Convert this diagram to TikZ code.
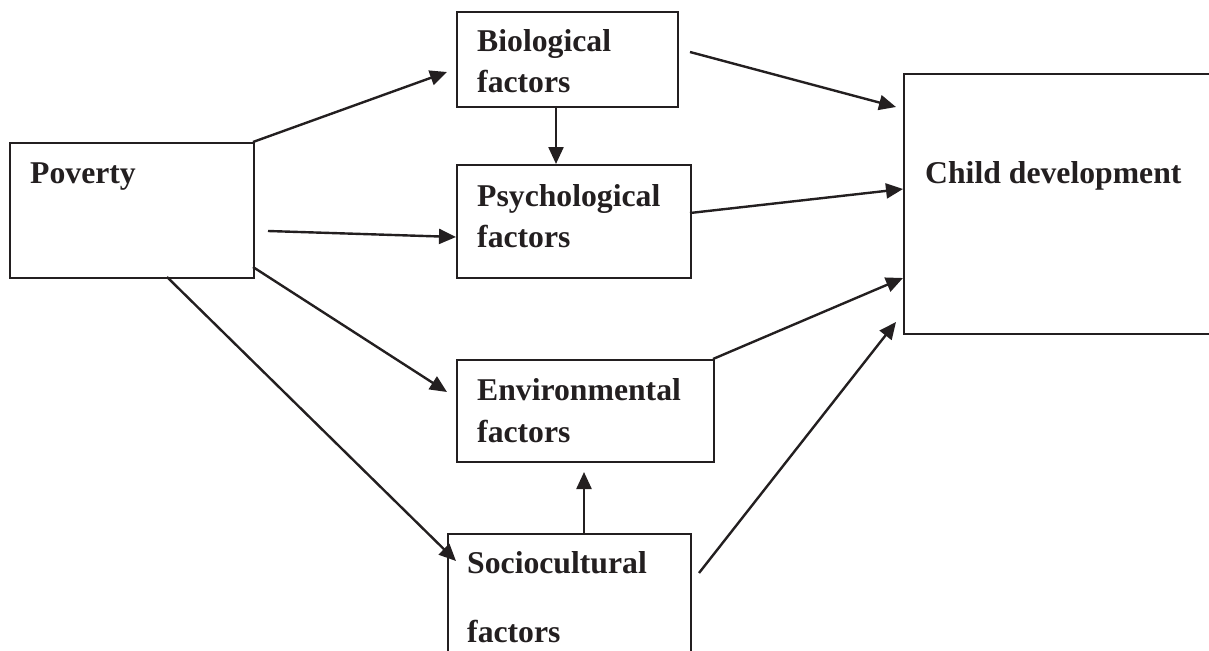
\documentclass[tikz,border=0pt]{standalone}
\usepackage{fontspec}
\setmainfont{Liberation Serif}
\usetikzlibrary{arrows.meta}
\definecolor{ink}{HTML}{231F20}
\tikzset{
  box/.style={draw=ink, line width=1.8pt, inner sep=0pt, anchor=north west},
  lbl/.style={anchor=base west, inner sep=0pt, text=ink, font=\bfseries\fontsize{31.7}{38}\selectfont},
  conn/.style={draw=ink, line width=2.4pt, -{Triangle[length=17pt,width=15pt]}},
}
\begin{document}
\begin{tikzpicture}[x=1pt,y=-1pt]
\useasboundingbox (0,0) rectangle (1209,650);
\clip (0,0) rectangle (1209,650);
% boxes
\node[box, minimum width=244pt, minimum height=135pt] (pov) at (9,142) {};
\node[box, minimum width=221pt, minimum height=95pt] (bio) at (456,11) {};
\node[box, minimum width=234pt, minimum height=113pt] (psy) at (456,164) {};
\node[box, minimum width=312pt, minimum height=260pt] (child) at (903,73) {};
\node[box, minimum width=257pt, minimum height=102pt] (env) at (456,359) {};
\node[box, minimum width=243pt, minimum height=130pt] (soc) at (447,533) {};
% labels
\node[lbl] (tpov) at (30,183) {Poverty};
\node[lbl] (tbio1) at (477,52) {Biological};
\node[lbl] (tbio2) at (477,93) {factors};
\node[lbl] (tpsy1) at (477,206) {Psychological};
\node[lbl] (tpsy2) at (477,247) {factors};
\node[lbl] (tchild) at (925,183) {Child development};
\node[lbl] (tenv1) at (477,400) {Environmental};
\node[lbl] (tenv2) at (477,442) {factors};
\node[lbl] (tsoc1) at (467,573) {Sociocultural};
\node[lbl] (tsoc2) at (467,642) {factors};
% connector end points
\coordinate (pbS) at (253,142);
\coordinate (pbE) at (447,72);
\coordinate (ppS) at (268,231);
\coordinate (ppE) at (456,237);
\coordinate (peS) at (253,267);
\coordinate (peE) at (447,392);
\coordinate (psS) at (167,277);
\coordinate (psE) at (456,561);
\coordinate (bpS) at (556,106);
\coordinate (bpE) at (556,164);
\coordinate (bcS) at (690,52);
\coordinate (bcE) at (896,107);
\coordinate (ycS) at (690,213);
\coordinate (ycE) at (903,189);
\coordinate (ecS) at (713,359);
\coordinate (ecE) at (903,278);
\coordinate (scS) at (699,573);
\coordinate (scE) at (896,322);
\coordinate (seS) at (584,533);
\coordinate (seE) at (584,472);
% connectors
\draw[conn] (pbS) -- (pbE);
\draw[conn] (ppS) -- (ppE);
\draw[conn] (peS) -- (peE);
\draw[conn] (psS) -- (psE);
\draw[conn] (bpS) -- (bpE);
\draw[conn] (bcS) -- (bcE);
\draw[conn] (ycS) -- (ycE);
\draw[conn] (ecS) -- (ecE);
\draw[conn] (scS) -- (scE);
\draw[conn] (seS) -- (seE);
\end{tikzpicture}
\end{document}
